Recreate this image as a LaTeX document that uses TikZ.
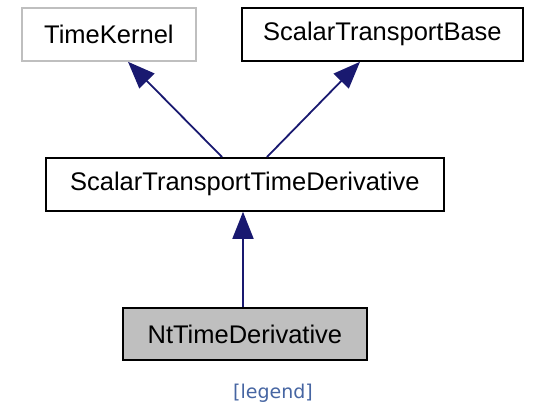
\documentclass[tikz,border=0pt]{standalone}
\usepackage{fontspec}
\setmainfont{Liberation Sans}
\newfontfamily\legendfont{DejaVu Sans}
\usetikzlibrary{arrows.meta}
\definecolor{edgeblue}{HTML}{191970}
\definecolor{linkblue}{HTML}{4665A2}
\definecolor{graybox}{HTML}{BFBFBF}
\begin{document}
\begin{tikzpicture}[x=1pt,y=-1pt,
  cls/.style={draw=black,line width=1.8pt,fill=white,inner sep=0pt,anchor=north west,font=\fontsize{25.5}{28}\selectfont},
  inh/.style={draw=edgeblue,line width=1.8pt,-{Triangle[length=27pt,width=21pt]}}]
\useasboundingbox (0,0) rectangle (536,404);
\node[cls,draw=graybox,minimum width=174pt,minimum height=53pt] (tk) at (21,7) {TimeKernel};
\node[cls,minimum width=281pt,minimum height=53pt] (stb) at (241,7) {ScalarTransportBase};
\node[cls,minimum width=398pt,minimum height=53pt] (sttd) at (45,157) {ScalarTransportTimeDerivative};
\node[cls,fill=graybox,minimum width=244pt,minimum height=52pt] (nt) at (122,307) {NtTimeDerivative};
\node[text=linkblue,font=\legendfont\fontsize{19}{22}\selectfont] (leg) at (273,393) {[legend]};
\coordinate (a1) at (222,157);
\coordinate (a2) at (267,157);
\draw[inh] (a1) -- (tk.south west -| 128,0);
\draw[inh] (a2) -- (stb.south west -| 360,0);
\draw[inh] (nt.north west -| 243,0) -- (sttd.south west -| 243,0);
\end{tikzpicture}
\end{document}
